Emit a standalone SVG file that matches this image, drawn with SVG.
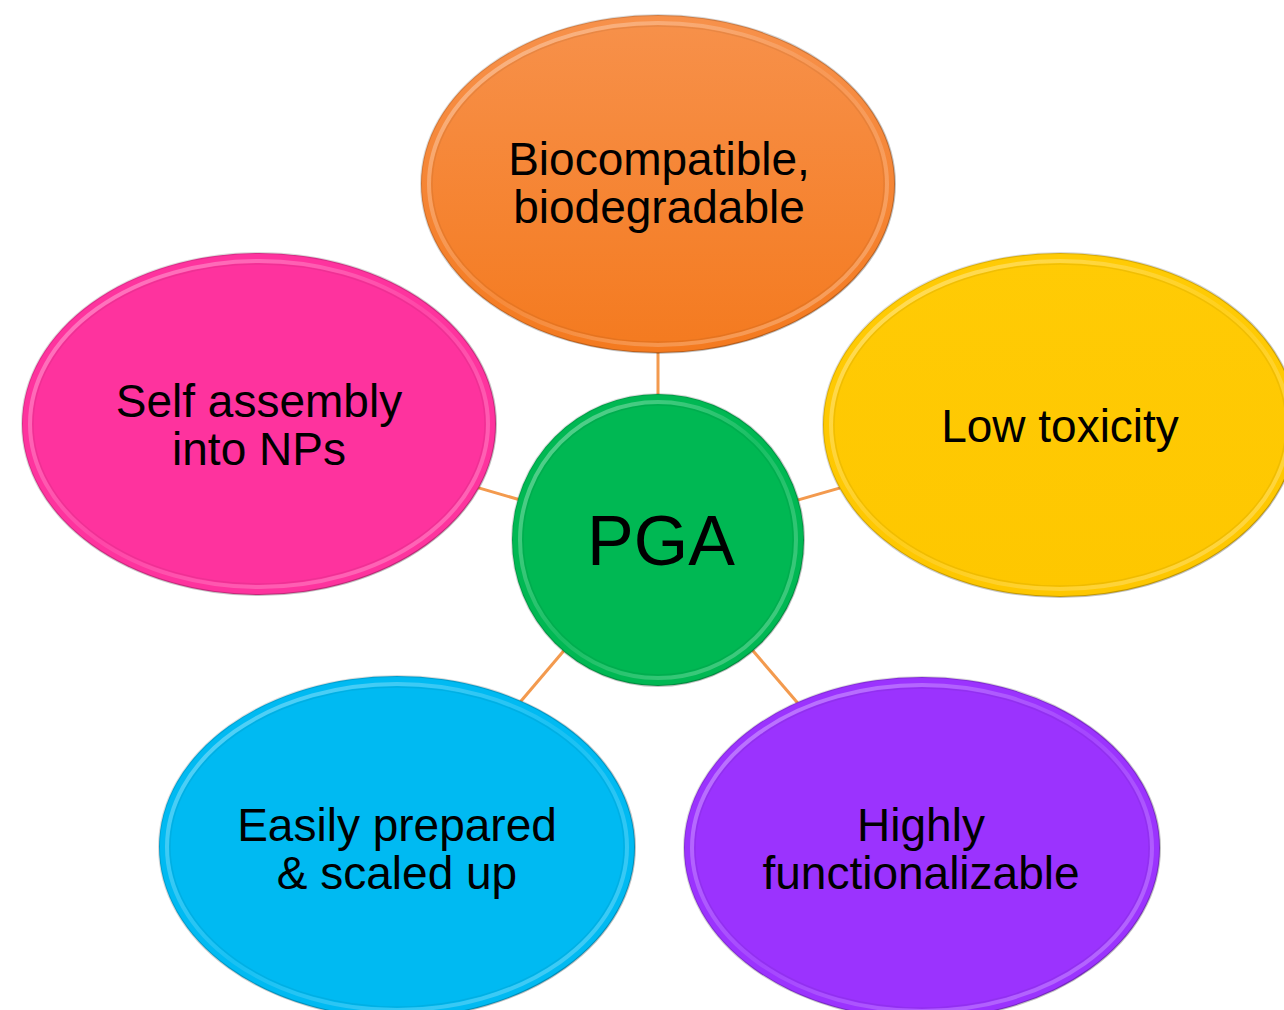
<svg xmlns="http://www.w3.org/2000/svg" width="1284" height="1010" viewBox="0 0 1284 1010">
  <defs>
    <!-- bevel rim: light band just inside the edge -->
    <linearGradient id="rimLight" x1="0" y1="0" x2="1" y2="1">
      <stop offset="0" stop-color="#fff" stop-opacity="0.4"/>
      <stop offset="0.5" stop-color="#fff" stop-opacity="0.1"/>
      <stop offset="1" stop-color="#fff" stop-opacity="0.3"/>
    </linearGradient>
    <linearGradient id="edgeDark" x1="0" y1="0" x2="1" y2="1">
      <stop offset="0" stop-color="#000" stop-opacity="0.1"/>
      <stop offset="1" stop-color="#000" stop-opacity="0.28"/>
    </linearGradient>
    <linearGradient id="gOrange" x1="0" y1="0" x2="0" y2="1">
      <stop offset="0" stop-color="#F7914B"/>
      <stop offset="1" stop-color="#F47A1F"/>
    </linearGradient>
    <linearGradient id="gYellow" x1="0" y1="0" x2="0" y2="1">
      <stop offset="0" stop-color="#FFCB05"/>
      <stop offset="1" stop-color="#FEC700"/>
    </linearGradient>
  </defs>
  <style>
    .label { font-family: "Liberation Sans", Arial, sans-serif; font-size: 46px; fill: #000; text-anchor: middle; }
    .center-label { font-size: 70px; }
    .rim { fill: none; stroke: url(#rimLight); stroke-width: 4; }
    .rim-in { fill: none; stroke: #000; stroke-opacity: 0.06; stroke-width: 1.5; }
    .edge { fill: none; stroke: url(#edgeDark); stroke-width: 2; }
    .link { stroke: #F39A4E; stroke-width: 3; fill: none; }
  </style>
  <rect width="1284" height="1010" fill="#fff"/>

  <!-- spokes from the hub to each property -->
  <g id="connectors">
    <line class="link" x1="658" y1="540" x2="658" y2="184"/>
    <line class="link" x1="658" y1="540" x2="259" y2="424"/>
    <line class="link" x1="658" y1="540" x2="1060" y2="425"/>
    <line class="link" x1="658" y1="540" x2="397" y2="847"/>
    <line class="link" x1="658" y1="540" x2="922" y2="848"/>
  </g>

  <g id="node-biocompatible">
    <ellipse cx="658" cy="184" rx="237" ry="169" fill="url(#gOrange)"/>
    <ellipse class="rim" cx="658" cy="184" rx="229" ry="161"/>
    <ellipse class="rim-in" cx="658" cy="184" rx="226" ry="158"/>
    <ellipse class="edge" cx="658" cy="184" rx="237" ry="169"/>
    <text class="label" x="659" y="175">Biocompatible,</text>
    <text class="label" x="659" y="223">biodegradable</text>
  </g>

  <g id="node-self-assembly">
    <ellipse cx="259" cy="424" rx="237" ry="171" fill="#FE339E"/>
    <ellipse class="rim" cx="259" cy="424" rx="229" ry="163"/>
    <ellipse class="rim-in" cx="259" cy="424" rx="226" ry="160"/>
    <ellipse class="edge" cx="259" cy="424" rx="237" ry="171"/>
    <text class="label" x="259" y="417">Self assembly</text>
    <text class="label" x="259" y="465">into NPs</text>
  </g>

  <g id="node-low-toxicity">
    <ellipse cx="1060" cy="425" rx="237" ry="172" fill="url(#gYellow)"/>
    <ellipse class="rim" cx="1060" cy="425" rx="229" ry="164"/>
    <ellipse class="rim-in" cx="1060" cy="425" rx="226" ry="161"/>
    <ellipse class="edge" cx="1060" cy="425" rx="237" ry="172"/>
    <text class="label" x="1060" y="442">Low toxicity</text>
  </g>

  <g id="node-easily-prepared">
    <ellipse cx="397" cy="847" rx="238" ry="171" fill="#00BAF2"/>
    <ellipse class="rim" cx="397" cy="847" rx="230" ry="163"/>
    <ellipse class="rim-in" cx="397" cy="847" rx="227" ry="160"/>
    <ellipse class="edge" cx="397" cy="847" rx="238" ry="171"/>
    <text class="label" x="397" y="841">Easily prepared</text>
    <text class="label" x="397" y="889">&amp; scaled up</text>
  </g>

  <g id="node-functionalizable">
    <ellipse cx="922" cy="848" rx="238" ry="171" fill="#9B33FE"/>
    <ellipse class="rim" cx="922" cy="848" rx="230" ry="163"/>
    <ellipse class="rim-in" cx="922" cy="848" rx="227" ry="160"/>
    <ellipse class="edge" cx="922" cy="848" rx="238" ry="171"/>
    <text class="label" x="921" y="841">Highly</text>
    <text class="label" x="921" y="889">functionalizable</text>
  </g>

  <g id="node-pga">
    <circle cx="658" cy="540" r="146" fill="#00B853"/>
    <circle class="rim" cx="658" cy="540" r="138"/>
    <circle class="rim-in" cx="658" cy="540" r="135"/>
    <circle class="edge" cx="658" cy="540" r="146"/>
    <text class="label center-label" x="661" y="565">PGA</text>
  </g>
</svg>
